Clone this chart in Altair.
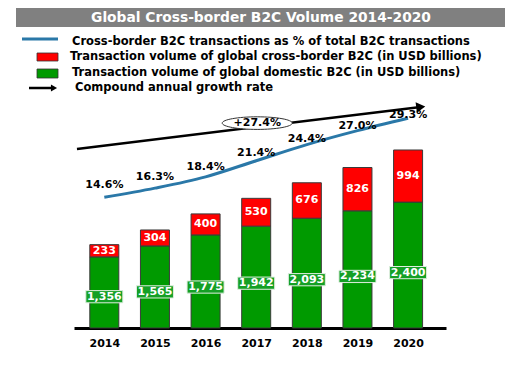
import altair as alt
import pandas as pd

# ---- data ----
years = [2014, 2015, 2016, 2017, 2018, 2019, 2020]
domestic = [1356, 1565, 1775, 1942, 2093, 2234, 2400]
cross_border = [233, 304, 400, 530, 676, 826, 994]
share_pct = [14.6, 16.3, 18.4, 21.4, 24.4, 27.0, 29.3]
series_names = ["Domestic", "Cross-border"]
cagr_label = "+27.4%"
# CAGR arrow anchors (year, % of total B2C)
arrow_years = [2013.46, 2020.25]
arrow_pct = [23.6, 31.4]
cagr_year = 2017.02
cagr_pct = 28.4

title_text = "Global Cross-border B2C Volume 2014-2020"
legend_labels = [
    "Cross-border B2C transactions as % of total B2C transactions",
    "Transaction volume of global cross-border B2C (in USD billions)",
    "Transaction volume of global domestic B2C (in USD billions)",
    "Compound annual growth rate",
]

GREEN = "#009a00"
RED = "#ff0000"
BLUE = "#2a78a8"
FONT = "DejaVu Sans"

rows = []
for yr, d, c in zip(years, domestic, cross_border):
    rows.append(dict(year=yr, segment="Domestic", start=0, end=d, label=f"{d:,}", mid=d * 0.44))
    rows.append(dict(year=yr, segment="Cross-border", start=d, end=d + c, label=f"{c:,}", mid=d + c / 2))
bars_df = pd.DataFrame(rows)
pct_df = pd.DataFrame({"year": years, "pct": share_pct,
                       "pct_label": [f"{p:.1f}%" for p in share_pct]})
arrow_df = pd.DataFrame({"x0": [arrow_years[0]], "x1": [arrow_years[1]],
                         "y0": [arrow_pct[0]], "y1": [arrow_pct[1]]})
cagr_df = pd.DataFrame({"year": [cagr_year], "pct": [cagr_pct], "label": [cagr_label]})
one = pd.DataFrame({"k": [0]})

xs = alt.Scale(domain=[2013.5, 2020.65], nice=False, zero=False)
vs = alt.Scale(domain=[0, 4347], nice=False, zero=False)
ps = alt.Scale(domain=[-9.72, 32.7], nice=False, zero=False)

x_axis = alt.Axis(values=years, format="d", title=None, ticks=False, grid=False,
                  domainColor="black", domainWidth=3, labelFont=FONT,
                  labelFontWeight="bold", labelFontSize=11, labelColor="black",
                  labelPadding=9, labelFlush=False, labelOverlap=False)


def X(field):
    return alt.X(field, scale=xs, axis=x_axis)


bars = alt.Chart(bars_df).mark_bar(size=29, stroke="#3a3a3a", strokeWidth=1).encode(
    x=X("year:Q"),
    y=alt.Y("end:Q", scale=vs, axis=None),
    y2="start:Q",
    color=alt.Color("segment:N", scale=alt.Scale(domain=series_names, range=[GREEN, RED]),
                    legend=None),
)

label_boxes = alt.Chart(bars_df).transform_filter(
    alt.datum.segment == "Domestic"
).mark_point(shape="M -1 -0.33 L 1 -0.33 L 1 0.33 L -1 0.33 Z", size=37 * 37,
             filled=True, fill="#15a025", stroke="#dfeedf", strokeWidth=1, opacity=1).encode(
    x=X("year:Q"),
    y=alt.Y("mid:Q", scale=vs, axis=None),
)

bar_text = alt.Chart(bars_df).mark_text(font=FONT, fontWeight="bold", fontSize=11,
                                        color="white").encode(
    x=X("year:Q"),
    y=alt.Y("mid:Q", scale=vs, axis=None),
    text="label:N",
)

line = alt.Chart(pct_df).mark_line(color=BLUE, strokeWidth=3, interpolate="monotone").encode(
    x=X("year:Q"),
    y=alt.Y("pct:Q", scale=ps, axis=None),
)
# labels sit well above the line at the left and close to it at the right
pct_text = alt.Chart(pct_df).transform_calculate(
    label_y="datum.pct + (12 - 0.62 * (datum.pct - 14.6)) / 5.374"
).mark_text(font=FONT, fontWeight="bold", fontSize=11, color="black").encode(
    x=X("year:Q"),
    y=alt.Y("label_y:Q", scale=ps, axis=None),
    text="pct_label:N",
)

arrow = alt.Chart(arrow_df).mark_rule(color="black", strokeWidth=2.5).encode(
    x=X("x0:Q"), x2="x1:Q",
    y=alt.Y("y0:Q", scale=ps, axis=None), y2="y1:Q",
)
arrow_head = alt.Chart(arrow_df).mark_point(shape="triangle-right", size=110, filled=True,
                                            color="black", opacity=1, angle=353).encode(
    x=X("x1:Q"),
    y=alt.Y("y1:Q", scale=ps, axis=None),
)
ellipse = alt.Chart(cagr_df).mark_point(
    shape="M -1 0 A 1 0.18 0 1 1 1 0 A 1 0.18 0 1 1 -1 0 Z", size=70 * 70,
    filled=True, fill="white", stroke="#333333", strokeWidth=1, opacity=1).encode(
    x=X("year:Q"),
    y=alt.Y("pct:Q", scale=ps, axis=None),
)
cagr_text = alt.Chart(cagr_df).mark_text(font=FONT, fontWeight="bold", fontSize=11,
                                         color="black").encode(
    x=X("year:Q"),
    y=alt.Y("pct:Q", scale=ps, axis=None),
    text="label:N",
)

# ---- header: title bar and hand-made legend ----
deco = []
base = alt.Chart(one)
deco.append(base.mark_rect(color="#808080").encode(
    x=alt.value(-58), x2=alt.value(431), y=alt.value(-92), y2=alt.value(-73)))
deco.append(base.mark_text(text=title_text, font=FONT, fontWeight="bold", fontSize=13.8,
                           color="white").encode(x=alt.value(187), y=alt.value(-82)))
deco.append(base.mark_rule(color=BLUE, strokeWidth=3).encode(
    x=alt.value(-52), x2=alt.value(-16), y=alt.value(-61)))
deco.append(base.mark_rect(color=RED, stroke="#333", strokeWidth=0.8).encode(
    x=alt.value(-37), x2=alt.value(-16), y=alt.value(-47), y2=alt.value(-39)))
deco.append(base.mark_rect(color=GREEN, stroke="#333", strokeWidth=0.8).encode(
    x=alt.value(-37), x2=alt.value(-16), y=alt.value(-31), y2=alt.value(-22)))
deco.append(base.mark_rule(color="black", strokeWidth=2.5).encode(
    x=alt.value(-45), x2=alt.value(-22), y=alt.value(-12)))
deco.append(base.mark_point(shape="triangle-right", size=50, filled=True, color="black",
                            opacity=1).encode(x=alt.value(-20), y=alt.value(-12)))
legend_pos = [(-2, -58), (-4, -43), (-2, -27), (1, -12)]
for lbl, (lx, ly) in zip(legend_labels, legend_pos):
    deco.append(base.mark_text(text=lbl, font=FONT, fontWeight="bold", fontSize=11.5,
                               color="black", align="left", baseline="middle").encode(
        x=alt.value(lx), y=alt.value(ly)))

chart = alt.layer(
    bars, label_boxes, bar_text, line, pct_text, arrow, arrow_head, ellipse, cagr_text, *deco
).resolve_scale(y="independent").properties(
    width=372, height=228,
    padding={"left": 66, "top": 92, "right": 70, "bottom": 42},
    autosize=alt.AutoSizeParams(type="none"),
    background="white",
).configure_view(stroke=None)

chart.save("out.html", embed_options={"renderer": "svg", "actions": False})
